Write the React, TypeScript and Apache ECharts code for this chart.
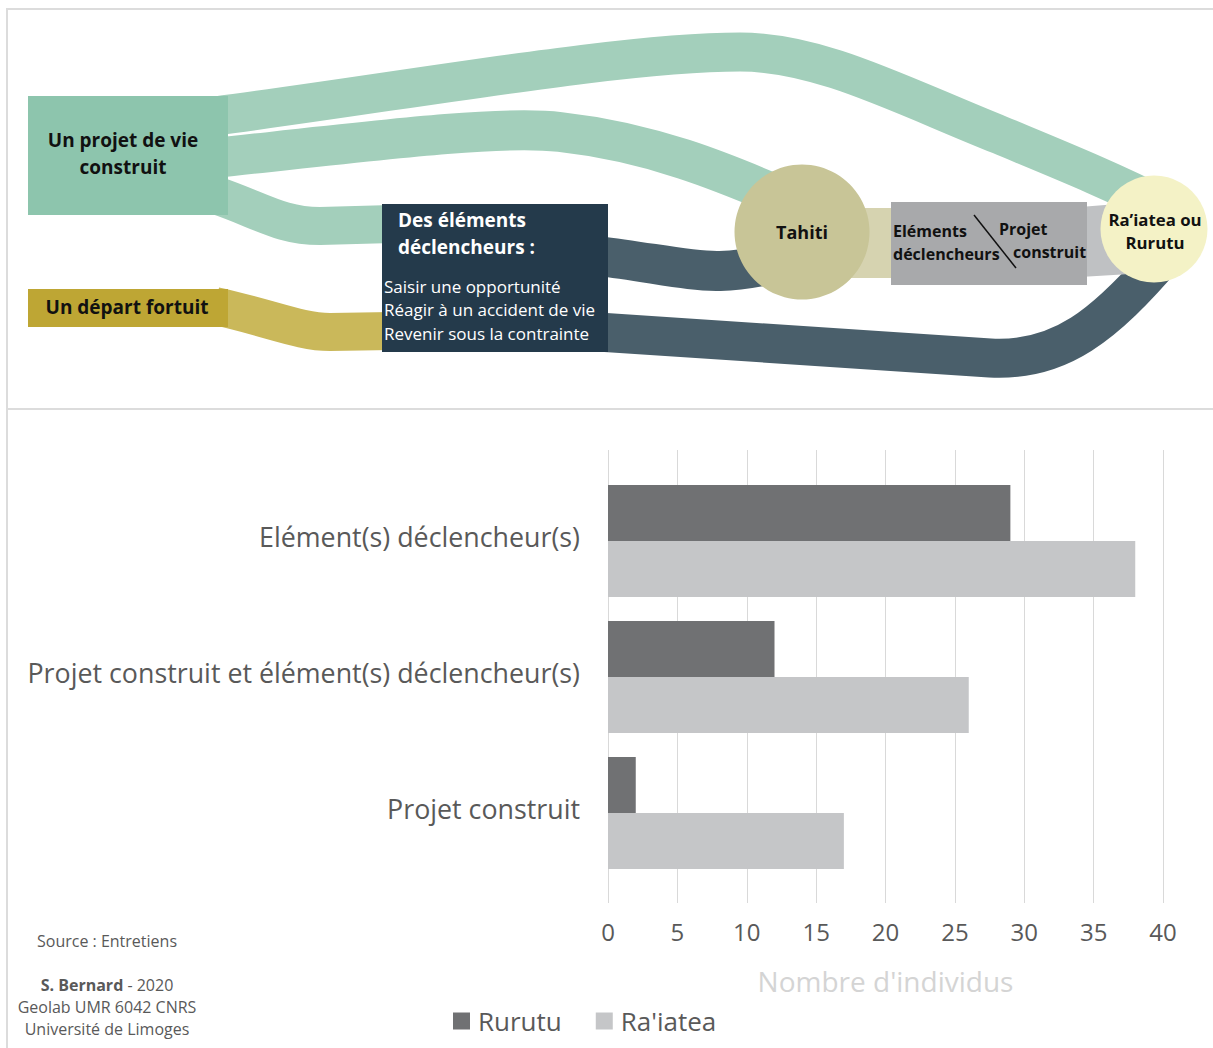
import React, { useEffect, useRef } from "react";
import * as echarts from "echarts";

const categories = [
  "Elément(s) déclencheur(s)",
  "Projet construit et élément(s) déclencheur(s)",
  "Projet construit",
];
const rurutu = [29, 12, 2];
const raiatea = [38, 26, 17];
const seriesNames = ["Rurutu", "Ra'iatea"];
const axisMin = 0;
const axisMax = 40;
const axisInterval = 5;
const axisTitle = "Nombre d'individus";

const FONT = "'Open Sans', sans-serif";

const flowPaths: Record<string, string> = {
  flowTop: "M 215 116 C 400 92, 620 52, 740 52 C 820 52, 900 95, 1000 135 C 1060 160, 1110 180, 1165 208",
  flowTahiti: "M 215 158 C 380 140, 500 125, 560 132 C 650 142, 720 170, 800 205",
  flowDecl: "M 215 195 C 260 210, 280 226, 320 226 L 392 224",
  flowFortuit: "M 215 306 C 270 318, 300 332, 330 332 L 392 331",
  flowDarkTahiti: "M 598 256 C 650 262, 690 272, 720 271 C 745 270, 765 266, 790 260",
  flowDarkRaiatea: "M 598 332 L 990 358 C 1060 362, 1105 325, 1165 255",
};

Object.keys(flowPaths).forEach((k) => {
  echarts.graphic.registerShape(k, echarts.graphic.extendPath(flowPaths[k], {}));
});

function txt(x: number, y: number, text: string, opts: any = {}) {
  return {
    type: "text",
    x,
    y,
    z: 20,
    style: {
      text,
      fill: opts.fill || "#111",
      fontSize: opts.fontSize || 16,
      fontWeight: opts.fontWeight || "normal",
      fontFamily: FONT,
      align: opts.align || "left",
      verticalAlign: "middle",
      lineHeight: opts.lineHeight,
      rich: opts.rich,
    },
  };
}

export default function App() {
  const ref = useRef<HTMLDivElement>(null);
  useEffect(() => {
    document.body.style.margin = "0";
    const chart = echarts.init(ref.current!, null, { renderer: "svg" });
    const green = "#a3cfbb";
    const dark = "#4a5f6b";
    const graphics: any[] = [
      { type: "rect", z: 1, shape: { x: 7, y: 9, width: 1230, height: 400 }, style: { fill: "none", stroke: "#dcdcdc", lineWidth: 2 } },
      { type: "line", z: 1, shape: { x1: 7, y1: 409, x2: 7, y2: 1048 }, style: { stroke: "#dcdcdc", lineWidth: 2 } },
      // flows
      { type: "flowTop", z: 5, style: { fill: "none", stroke: green, lineWidth: 39 } },
      { type: "flowTahiti", z: 5, style: { fill: "none", stroke: green, lineWidth: 40 } },
      { type: "flowDecl", z: 5, style: { fill: "none", stroke: green, lineWidth: 38 } },
      { type: "flowFortuit", z: 5, style: { fill: "none", stroke: "#cab85a", lineWidth: 38 } },
      { type: "flowDarkTahiti", z: 5, style: { fill: "none", stroke: dark, lineWidth: 40 } },
      { type: "flowDarkRaiatea", z: 5, style: { fill: "none", stroke: dark, lineWidth: 39 } },
      { type: "rect", z: 6, shape: { x: 845, y: 208, width: 50, height: 70 }, style: { fill: "#d6d3b0" } },
      { type: "polygon", z: 6, shape: { points: [[1080, 207], [1130, 203], [1130, 274], [1080, 277]] }, style: { fill: "#bfc1c3" } },
      // nodes
      { type: "rect", z: 10, shape: { x: 28, y: 96, width: 200, height: 119 }, style: { fill: "#8dc5ad" } },
      { type: "rect", z: 10, shape: { x: 28, y: 289, width: 200, height: 38 }, style: { fill: "#bea634" } },
      { type: "rect", z: 10, shape: { x: 382, y: 204, width: 226, height: 148 }, style: { fill: "#243a4b" } },
      { type: "circle", z: 10, shape: { cx: 802, cy: 232, r: 67.5 }, style: { fill: "#c8c597" } },
      { type: "rect", z: 10, shape: { x: 891, y: 202, width: 196, height: 83 }, style: { fill: "#a8a9ab" } },
      { type: "circle", z: 10, shape: { cx: 1154, cy: 229, r: 53.5 }, style: { fill: "#f4f2c6" } },
      { type: "line", z: 15, shape: { x1: 974, y1: 215, x2: 1016, y2: 268 }, style: { stroke: "#111", lineWidth: 1.5 } },
      // texts
      txt(123, 140, "Un projet de vie", { fontWeight: "bold", fontSize: 19, align: "center" }),
      txt(123, 167, "construit", { fontWeight: "bold", fontSize: 19, align: "center" }),
      txt(127, 307, "Un départ fortuit", { fontWeight: "bold", fontSize: 19, align: "center" }),
      txt(398, 220, "Des éléments", { fontWeight: "bold", fontSize: 19, fill: "#fff" }),
      txt(398, 247, "déclencheurs :", { fontWeight: "bold", fontSize: 19, fill: "#fff" }),
      txt(384, 286, "Saisir une opportunité", { fontSize: 17, fill: "#fff" }),
      txt(384, 309, "Réagir à un accident de vie", { fontSize: 17, fill: "#fff" }),
      txt(384, 333, "Revenir sous la contrainte", { fontSize: 17, fill: "#fff" }),
      txt(802, 232, "Tahiti", { fontWeight: "bold", fontSize: 18, align: "center" }),
      txt(893, 231, "Eléments", { fontWeight: "bold", fontSize: 16 }),
      txt(893, 254, "déclencheurs", { fontWeight: "bold", fontSize: 16 }),
      txt(999, 229, "Projet", { fontWeight: "bold", fontSize: 16 }),
      txt(1013, 252, "construit", { fontWeight: "bold", fontSize: 16 }),
      txt(1155, 219, "Ra’iatea ou", { fontWeight: "bold", fontSize: 16.8, align: "center" }),
      txt(1155, 242, "Rurutu", { fontWeight: "bold", fontSize: 16.8, align: "center" }),
      // footer
      txt(37, 941, "Source : Entretiens", { fontSize: 16, fill: "#595959" }),
      txt(107, 985, "{b|S. Bernard} - 2020", {
        fontSize: 16, fill: "#595959", align: "center",
        rich: { b: { fontWeight: "bold", fontSize: 16, fill: "#595959", fontFamily: FONT } },
      }),
      txt(107, 1007, "Geolab UMR 6042 CNRS", { fontSize: 16, fill: "#595959", align: "center" }),
      txt(107, 1029, "Université de Limoges", { fontSize: 16, fill: "#595959", align: "center" }),
    ];

    chart.setOption({
      animation: false,
      textStyle: { fontFamily: FONT },
      grid: [
        { left: 608, width: 555, top: 450, height: 453 },
        { left: 608, width: 555, top: 473, height: 408 },
      ],
      xAxis: [
        {
          gridIndex: 0,
          type: "value",
          min: axisMin,
          max: axisMax,
          interval: axisInterval,
          axisLine: { show: false },
          axisTick: { show: false },
          splitLine: { show: true, lineStyle: { color: "#d9d9d9", width: 1 } },
          axisLabel: { fontSize: 24, color: "#595959", margin: 16, fontFamily: FONT },
          name: axisTitle,
          nameLocation: "middle",
          nameGap: 64,
          nameTextStyle: { fontSize: 28, color: "#d4d4d4", fontFamily: FONT },
        },
        { gridIndex: 1, type: "value", min: axisMin, max: axisMax, show: false },
      ],
      yAxis: [
        { gridIndex: 0, type: "category", data: categories, show: false },
        {
          gridIndex: 1,
          type: "category",
          data: categories,
          inverse: true,
          axisLine: { show: false },
          axisTick: { show: false },
          axisLabel: {
            fontSize: 26.8,
            color: "#595959",
            margin: 28,
            fontFamily: FONT,
            verticalAlign: "bottom",
            lineHeight: 10,
          },
        },
      ],
      legend: {
        data: seriesNames,
        left: 453,
        top: 1008,
        padding: 0,
        icon: "rect",
        itemWidth: 17,
        itemHeight: 17,
        itemGap: 34,
        textStyle: { fontSize: 26, color: "#595959", fontFamily: FONT, padding: [0, 0, 0, 3] },
      },
      series: [
        {
          name: seriesNames[0],
          type: "bar",
          xAxisIndex: 1,
          yAxisIndex: 1,
          data: rurutu,
          barWidth: 56,
          barGap: "0%",
          itemStyle: { color: "#707173" },
        },
        {
          name: seriesNames[1],
          type: "bar",
          xAxisIndex: 1,
          yAxisIndex: 1,
          data: raiatea,
          barWidth: 56,
          barGap: "0%",
          itemStyle: { color: "#c5c6c8" },
        },
      ],
      graphic: graphics,
    });
    return () => chart.dispose();
  }, []);
  return <div ref={ref} style={{ width: 1213, height: 1048 }} />;
}
